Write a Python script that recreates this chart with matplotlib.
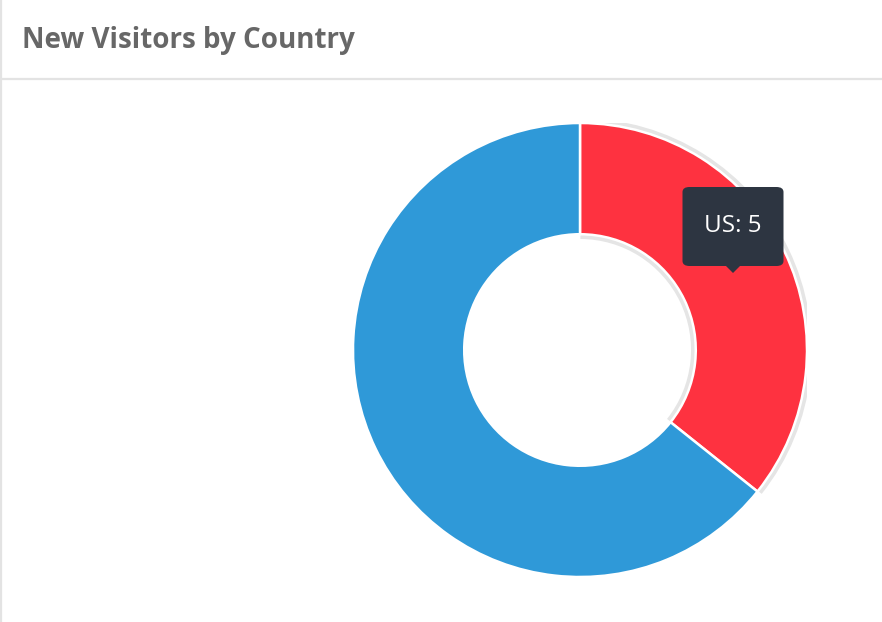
import matplotlib
matplotlib.use("Agg")
import matplotlib.pyplot as plt
from matplotlib.patches import Wedge, FancyBboxPatch, Polygon
from matplotlib.lines import Line2D

# data
countries = ["US", "Other"]
visitors = [5, 9]
colors = ["#fe3240", "#2f99d8"]
title = "New Visitors by Country"
hovered = 0  # the slice with the tooltip

plt.rcParams['font.family'] = ['Open Sans', 'DejaVu Sans']

W, H = 882, 622
fig = plt.figure(figsize=(W / 100, H / 100), dpi=100)

# card frame: left border + header divider
fig.add_artist(Line2D([1 / W, 1 / W], [0, 1], color="#e3e3e3", lw=1.6))
fig.add_artist(Line2D([0, 1], [1 - 78.5 / H, 1 - 78.5 / H], color="#e3e3e3", lw=1.6))
fig.text(22 / W, 1 - 48 / H, title, fontsize=20, fontweight="bold",
         color="#676767", ha="left", va="baseline")

# doughnut
cx, cy, r = 580, 350, 227
ax = fig.add_axes([(cx - r) / W, (H - cy - r) / H, 2 * r / W, 2 * r / H])
ax.set_xlim(-1, 1)
ax.set_ylim(-1, 1)
ax.set_aspect("equal")
ax.axis("off")

ring = 0.49
total = sum(visitors)
# hover border behind the highlighted slice
start = 90 - 360 * sum(visitors[:hovered]) / total
end = start - 360 * visitors[hovered] / total
ax.add_patch(Wedge((0, 0), 1.021, end + 0.2, start - 0.2, width=ring + 0.042,
                   facecolor="#e5e5e5", edgecolor="none"))

wedges, _ = ax.pie(visitors, colors=colors, startangle=90, counterclock=False,
                   radius=1.0, wedgeprops=dict(width=ring, edgecolor="white", linewidth=1.8))
ax.set_xlim(-1, 1)
ax.set_ylim(-1, 1)

# tooltip
tip_x, tip_y = 733, 273
bw, bh = 101, 79
fig.add_artist(FancyBboxPatch(((tip_x - bw / 2) / W, 1 - (tip_y - 7) / H),
                              bw / W, bh / H,
                              boxstyle="round,pad=0,rounding_size=0.008",
                              transform=fig.transFigure,
                              facecolor="#2d3541", edgecolor="none"))
fig.add_artist(Polygon([[(tip_x - 8) / W, 1 - (tip_y - 8) / H],
                        [(tip_x + 8) / W, 1 - (tip_y - 8) / H],
                        [tip_x / W, 1 - tip_y / H]],
                       closed=True, transform=fig.transFigure,
                       facecolor="#2d3541", edgecolor="none"))
fig.text(tip_x / W, 1 - 226 / H, f"{countries[hovered]}: {visitors[hovered]}",
         fontsize=17.5, color="white", ha="center", va="center")

fig.savefig("out.png", dpi=100)
